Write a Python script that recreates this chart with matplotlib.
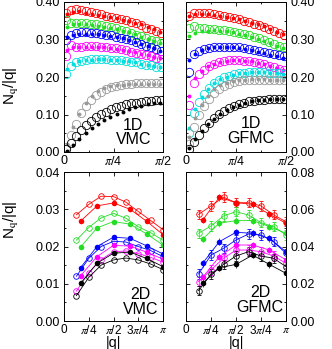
import numpy as np
import matplotlib.pyplot as plt
from matplotlib.ticker import MultipleLocator, FormatStrFormatter

plt.rcParams['font.family'] = ['Liberation Sans', 'DejaVu Sans']
plt.rcParams['mathtext.fontset'] = 'stix'

# ---- 1D data: open circles and filled dots on two momentum grids
q1_open = np.pi / 40 * (np.arange(20) + 0.5)
q1_fill = np.pi / 32 * (np.arange(16) + 0.5)

# 1D VMC
v1_red_o = [0.372, 0.379, 0.382, 0.379, 0.376, 0.373, 0.370, 0.367, 0.364, 0.361,
            0.358, 0.355, 0.351, 0.347, 0.343, 0.338, 0.332, 0.327, 0.322, 0.317]
v1_red_f = [0.368, 0.374, 0.375, 0.372, 0.369, 0.366, 0.363, 0.360, 0.357, 0.353,
            0.349, 0.345, 0.340, 0.334, 0.328, 0.320]
v1_green_o = [0.352, 0.345, 0.345, 0.344, 0.343, 0.342, 0.340, 0.338, 0.336, 0.333,
              0.330, 0.326, 0.322, 0.318, 0.313, 0.309, 0.305, 0.300, 0.296, 0.292]
v1_green_f = [0.334, 0.340, 0.341, 0.340, 0.339, 0.337, 0.334, 0.331, 0.328, 0.324,
              0.319, 0.314, 0.308, 0.302, 0.296, 0.290]
v1_blue_o = [0.300, 0.312, 0.317, 0.319, 0.319, 0.318, 0.317, 0.315, 0.313, 0.311,
             0.308, 0.305, 0.302, 0.298, 0.294, 0.289, 0.284, 0.279, 0.274, 0.269]
v1_blue_f = [0.306, 0.313, 0.316, 0.316, 0.315, 0.314, 0.312, 0.310, 0.307, 0.303,
             0.299, 0.294, 0.289, 0.283, 0.277, 0.270]
v1_mag_o = [0.256, 0.285, 0.281, 0.281, 0.282, 0.282, 0.282, 0.281, 0.280, 0.278,
            0.276, 0.274, 0.271, 0.268, 0.265, 0.262, 0.259, 0.256, 0.252, 0.249]
v1_mag_f = [0.272, 0.279, 0.280, 0.281, 0.281, 0.280, 0.279, 0.277, 0.275, 0.272,
            0.269, 0.266, 0.262, 0.258, 0.254, 0.250]
v1_cyan_o = [0.208, 0.230, 0.240, 0.244, 0.246, 0.247, 0.247, 0.247, 0.247, 0.246,
             0.246, 0.245, 0.244, 0.241, 0.239, 0.236, 0.233, 0.231, 0.228, 0.226]
v1_cyan_f = [0.222, 0.236, 0.242, 0.245, 0.246, 0.247, 0.247, 0.246, 0.245, 0.244,
             0.242, 0.239, 0.236, 0.233, 0.230, 0.226]
v1_gray_o = [0.013, 0.046, 0.076, 0.104, 0.124, 0.139, 0.151, 0.161, 0.168, 0.173,
             0.177, 0.179, 0.181, 0.182, 0.183, 0.184, 0.184, 0.184, 0.183, 0.183]
v1_gray_f = [0.022, 0.066, 0.102, 0.130, 0.150, 0.162, 0.170, 0.175, 0.178, 0.180,
             0.181, 0.182, 0.182, 0.182, 0.181, 0.181]
v1_black_o = [0.008, 0.024, 0.042, 0.058, 0.071, 0.083, 0.093, 0.101, 0.108, 0.114,
              0.119, 0.123, 0.127, 0.130, 0.132, 0.134, 0.136, 0.137, 0.138, 0.138]
v1_black_f = [0.004, 0.018, 0.034, 0.050, 0.063, 0.075, 0.085, 0.094, 0.102, 0.108,
              0.114, 0.119, 0.123, 0.127, 0.130, 0.132]

# 1D GFMC
g1_red_o = [0.364, 0.370, 0.372, 0.371, 0.370, 0.367, 0.365, 0.362, 0.359, 0.357,
            0.354, 0.350, 0.347, 0.342, 0.338, 0.333, 0.328, 0.322, 0.317, 0.312]
g1_red_f = [0.362, 0.368, 0.369, 0.368, 0.366, 0.363, 0.360, 0.357, 0.354, 0.350,
            0.345, 0.341, 0.335, 0.328, 0.321, 0.314]
g1_green_o = [0.330, 0.335, 0.332, 0.330, 0.328, 0.327, 0.326, 0.325, 0.323, 0.321,
              0.318, 0.315, 0.311, 0.307, 0.303, 0.298, 0.293, 0.288, 0.284, 0.280]
g1_green_f = [0.310, 0.318, 0.322, 0.324, 0.325, 0.324, 0.322, 0.319, 0.316, 0.312,
              0.307, 0.302, 0.296, 0.290, 0.284, 0.278]
g1_blue_o = [0.214, 0.262, 0.270, 0.274, 0.277, 0.279, 0.280, 0.281, 0.281, 0.280,
             0.279, 0.277, 0.275, 0.273, 0.270, 0.267, 0.264, 0.261, 0.258, 0.255]
g1_blue_f = [0.245, 0.262, 0.272, 0.277, 0.279, 0.280, 0.280, 0.279, 0.277, 0.275,
             0.272, 0.268, 0.264, 0.260, 0.256, 0.252]
g1_mag_o = [0.125, 0.185, 0.207, 0.220, 0.229, 0.235, 0.240, 0.243, 0.245, 0.245,
            0.245, 0.244, 0.243, 0.240, 0.237, 0.234, 0.230, 0.226, 0.222, 0.218]
g1_mag_f = [0.150, 0.198, 0.217, 0.229, 0.236, 0.241, 0.244, 0.245, 0.245, 0.244,
            0.242, 0.238, 0.234, 0.229, 0.224, 0.218]
g1_cyan_o = [0.050, 0.105, 0.133, 0.155, 0.171, 0.183, 0.192, 0.199, 0.204, 0.208,
             0.211, 0.212, 0.213, 0.213, 0.213, 0.213, 0.212, 0.211, 0.210, 0.208]
g1_cyan_f = [0.065, 0.115, 0.146, 0.168, 0.183, 0.194, 0.201, 0.206, 0.210, 0.212,
             0.213, 0.213, 0.213, 0.212, 0.210, 0.208]
g1_gray_o = [0.022, 0.068, 0.098, 0.122, 0.142, 0.157, 0.168, 0.176, 0.182, 0.186,
             0.189, 0.191, 0.192, 0.192, 0.193, 0.193, 0.193, 0.192, 0.192, 0.191]
g1_gray_f = [0.040, 0.090, 0.125, 0.150, 0.167, 0.178, 0.185, 0.189, 0.192, 0.193,
             0.194, 0.194, 0.194, 0.193, 0.192, 0.191]
g1_black_o = [0.008, 0.028, 0.046, 0.063, 0.077, 0.090, 0.101, 0.110, 0.117, 0.123,
              0.128, 0.132, 0.135, 0.137, 0.139, 0.140, 0.141, 0.142, 0.142, 0.142]
g1_black_f = [0.010, 0.034, 0.056, 0.074, 0.089, 0.102, 0.112, 0.120, 0.126, 0.131,
              0.135, 0.138, 0.140, 0.141, 0.142, 0.142]

# ---- 2D data
q2_open = np.pi / 8 * np.arange(1, 9)
q2_fill = np.pi / 6 * np.arange(1, 7)

v2_red_o = [0.0285, 0.0313, 0.0335, 0.0334, 0.0319, 0.0294, 0.0270, 0.0245]
v2_red_f = [0.0268, 0.0309, 0.0317, 0.0300, 0.0268, 0.0232]
v2_green_o = [0.0217, 0.0251, 0.0277, 0.0289, 0.0276, 0.0253, 0.0237, 0.0217]
v2_green_f = [0.0198, 0.0250, 0.0267, 0.0260, 0.0234, 0.0204]
v2_blue_o = [0.0120, 0.0168, 0.0200, 0.0214, 0.0212, 0.0200, 0.0189, 0.0173]
v2_blue_f = [0.0143, 0.0200, 0.0225, 0.0222, 0.0202, 0.0180]
v2_mag_o = [0.0080, 0.0130, 0.0165, 0.0186, 0.0188, 0.0181, 0.0171, 0.0158]
v2_mag_f = [0.0121, 0.0173, 0.0203, 0.0201, 0.0185, 0.0166]
v2_black_o = [0.0068, 0.0117, 0.0150, 0.0164, 0.0169, 0.0164, 0.0153, 0.0138]
v2_black_f = [0.0101, 0.0155, 0.0182, 0.0185, 0.0168, 0.0146]

g2_red_o = [0.0572, 0.0618, 0.0665, 0.0635, 0.0635, 0.0618, 0.0570, 0.0533]
g2_red_f = [0.0542, 0.0664, 0.0635, 0.0627, 0.0573, 0.0525]
g2_green_o = [0.0471, 0.0510, 0.0564, 0.0587, 0.0569, 0.0528, 0.0507, 0.0462]
g2_green_f = [0.0440, 0.0525, 0.0539, 0.0539, 0.0507, 0.0471]
g2_blue_o = [0.0252, 0.0354, 0.0390, 0.0435, 0.0467, 0.0462, 0.0426, 0.0363]
g2_blue_f = [0.0310, 0.0426, 0.0476, 0.0471, 0.0444, 0.0372]
g2_mag_o = [0.0211, 0.0274, 0.0337, 0.0381, 0.0381, 0.0372, 0.0349, 0.0310]
g2_mag_f = [0.0235, 0.0345, 0.0408, 0.0408, 0.0381, 0.0328]
g2_black_o = [0.0163, 0.0252, 0.0304, 0.0349, 0.0372, 0.0349, 0.0337, 0.0292]
g2_black_f = [0.0202, 0.0286, 0.0304, 0.0354, 0.0304, 0.0256]
g2_err_o = 0.0025
g2_err_f = 0.0018

RED, GREEN, BLUE, MAG, CYAN, GRAY, BLACK = ('#ff0000', '#22dd22', '#0000ff', '#ff00ff',
                                             '#00dede', '#999999', '#000000')

fig = plt.figure(figsize=(3.32, 3.49), dpi=100)
W, H = 332.0, 349.0


def panel(x0, x1, y0, y1):
    return fig.add_axes([x0 / W, 1 - y1 / H, (x1 - x0) / W, (y1 - y0) / H])


def style(ax, right=False):
    ax.tick_params(which='both', direction='in', top=True, right=True,
                   labelsize=9, width=0.6, pad=3)
    ax.tick_params(axis='x', pad=2.5)
    ax.tick_params(which='major', length=3)
    ax.tick_params(which='minor', length=1.5)
    if right:
        ax.yaxis.tick_right()
        ax.yaxis.set_ticks_position('both')
    for s in ax.spines.values():
        s.set_linewidth(0.7)


ax1 = panel(64, 163, 2, 152)
ax2 = panel(186, 286, 2, 152)
ax3 = panel(64, 163, 172, 321)
ax4 = panel(186, 286, 172, 321)

sets_1d = [
    (ax1, [(v1_red_o, v1_red_f, RED), (v1_green_o, v1_green_f, GREEN),
           (v1_blue_o, v1_blue_f, BLUE), (v1_mag_o, v1_mag_f, MAG),
           (v1_cyan_o, v1_cyan_f, CYAN), (v1_gray_o, v1_gray_f, GRAY),
           (v1_black_o, v1_black_f, BLACK)]),
    (ax2, [(g1_red_o, g1_red_f, RED), (g1_green_o, g1_green_f, GREEN),
           (g1_blue_o, g1_blue_f, BLUE), (g1_mag_o, g1_mag_f, MAG),
           (g1_cyan_o, g1_cyan_f, CYAN), (g1_gray_o, g1_gray_f, GRAY),
           (g1_black_o, g1_black_f, BLACK)]),
]
for ax, series in sets_1d:
    for yo, yf, c in series:
        ax.plot(q1_open, yo, 'o', ms=6, mfc='none', mec=c, mew=0.6)
        ax.plot(q1_fill, yf, 'o', ms=2.8, mfc=c, mec=c, mew=0)
    ax.set_xlim(0, np.pi / 2)
    ax.set_ylim(0, 0.40)
    ax.set_xticks([0, np.pi / 4, np.pi / 2])
    ax.set_xticklabels(['0', r'$\pi$/4', r'$\pi$/2'])
    ax.xaxis.set_minor_locator(MultipleLocator(np.pi / 8))
    ax.yaxis.set_major_locator(MultipleLocator(0.10))
    ax.yaxis.set_minor_locator(MultipleLocator(0.05))
    ax.yaxis.set_major_formatter(FormatStrFormatter('%.2f'))

v2_series = [(v2_red_o, v2_red_f, RED), (v2_green_o, v2_green_f, GREEN),
             (v2_blue_o, v2_blue_f, BLUE), (v2_mag_o, v2_mag_f, MAG),
             (v2_black_o, v2_black_f, BLACK)]
g2_series = [(g2_red_o, g2_red_f, RED), (g2_green_o, g2_green_f, GREEN),
             (g2_blue_o, g2_blue_f, BLUE), (g2_mag_o, g2_mag_f, MAG),
             (g2_black_o, g2_black_f, BLACK)]

for yo, yf, c in v2_series:
    ax3.plot(q2_open, yo, '-o', color=c, lw=0.6, ms=4, mfc='none', mew=0.6)
    ax3.plot(q2_fill, yf, '-o', color=c, lw=0.6, ms=4, mew=0)
for yo, yf, c in g2_series:
    ax4.errorbar(q2_open, yo, yerr=g2_err_o, fmt='-o', color=c, lw=0.6, ms=4,
                 mfc='none', mew=0.6, elinewidth=0.5, capsize=1.5, capthick=0.5)
    ax4.errorbar(q2_fill, yf, yerr=g2_err_f, fmt='-o', color=c, lw=0.6, ms=4,
                 mew=0, elinewidth=0.5, capsize=1.5, capthick=0.5)

style(ax1)
style(ax2, right=True)
style(ax3)
style(ax4, right=True)

for ax, ymax, step in [(ax3, 0.04, 0.01), (ax4, 0.08, 0.02)]:
    ax.set_xlim(0, np.pi)
    ax.set_ylim(0, ymax)
    ax.set_xticks([0, np.pi / 4, np.pi / 2, 3 * np.pi / 4, np.pi])
    ax.set_xticklabels(['0', r'$\pi$/4', r'$\pi$/2', r'3$\pi$/4', r'$\pi$'])
    ax.tick_params(axis='x', labelsize=8.5, pad=2)
    ax.yaxis.set_major_locator(MultipleLocator(step))
    ax.yaxis.set_minor_locator(MultipleLocator(step / 2))
    ax.yaxis.set_major_formatter(FormatStrFormatter('%.2f'))
    ax.set_xlabel('|q|', fontsize=10.5, labelpad=-0.5)

for ax, txt, x, y in [(ax1, '1D\nVMC', 0.70, 0.03), (ax2, '1D\nGFMC', 0.65, 0.04),
                      (ax3, '2D\nVMC', 0.77, 0.03), (ax4, '2D\nGFMC', 0.74, 0.04)]:
    ax.text(x, y, txt, transform=ax.transAxes, ha='center', va='bottom',
            fontsize=11.5, linespacing=1.0, multialignment='center')

fig.text(0.036, 0.754, r'N$_\mathrm{q}$/|q|', rotation=90, ha='center', va='center',
         fontsize=11)
fig.text(0.036, 0.37, r'N$_\mathrm{q}$/|q|', rotation=90, ha='center', va='center',
         fontsize=11)

fig.savefig('out.png', dpi=100)
